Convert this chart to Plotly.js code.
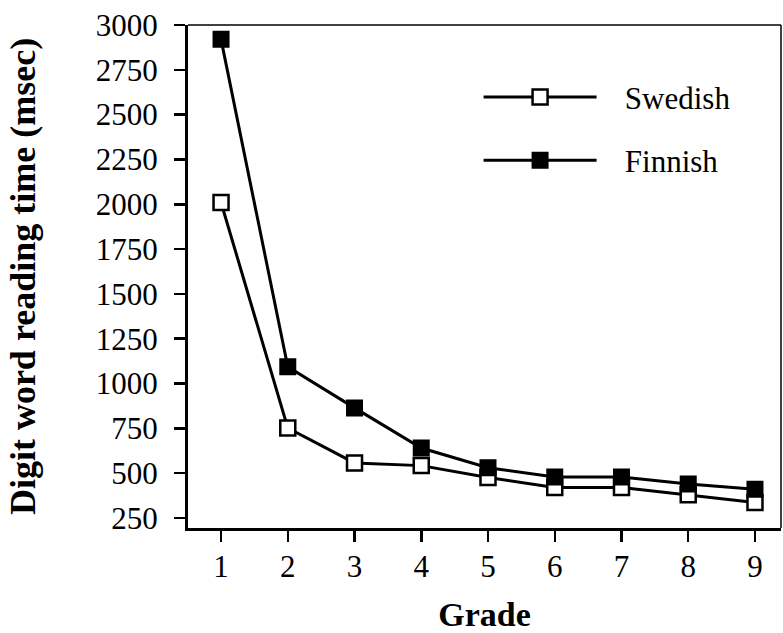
<!DOCTYPE html>
<html>
<head>
<meta charset="utf-8">
<script src="https://cdn.plot.ly/plotly-3.0.1.min.js"></script>
<style>
  html, body { margin: 0; padding: 0; background: #fff; }
  #chart { width: 783px; height: 633px; }
</style>
</head>
<body>
<div id="chart"></div>
<script>
// Digit word reading time by school grade
const grades = [1, 2, 3, 4, 5, 6, 7, 8, 9];
const swedish = [2010, 752, 557, 542, 476, 420, 420, 380, 336];
const finnish = [2920, 1093, 864, 640, 530, 478, 478, 440, 410];
const yTicks = [250, 500, 750, 1000, 1250, 1500, 1750, 2000, 2250, 2500, 2750, 3000];

const serif = '"Liberation Serif", "Times New Roman", serif';
const pad = '\u00a0\u00a0\u00a0';

const lineStyle = { color: '#000', width: 3 };

const traces = [
  {
    x: grades, y: swedish, name: pad + 'Swedish', type: 'scatter', mode: 'lines+markers',
    legendgroup: 'a',
    line: lineStyle,
    marker: { symbol: 'square', size: 15, color: '#fff', line: { color: '#000', width: 2.5 } },
    cliponaxis: false
  },
  {
    x: grades, y: finnish, name: pad + 'Finnish', type: 'scatter', mode: 'lines+markers',
    legendgroup: 'b',
    line: lineStyle,
    marker: { symbol: 'square', size: 15, color: '#000', line: { color: '#000', width: 2 } },
    cliponaxis: false
  }
];

const layout = {
  width: 783, height: 633,
  paper_bgcolor: '#fff', plot_bgcolor: '#fff',
  margin: { l: 188, r: 2, t: 25, b: 105 },
  font: { family: serif, color: '#000', size: 31 },
  showlegend: true,
  legend: {
    x: 0.49, y: 0.91, xanchor: 'left', yanchor: 'top',
    traceorder: 'grouped',
    tracegroupgap: 20,
    itemwidth: 113,
    bgcolor: 'rgba(0,0,0,0)',
    font: { family: serif, size: 31, color: '#000' }
  },
  xaxis: {
    range: [0.505, 9.39],
    tickvals: grades,
    ticktext: grades.map(String),
    ticks: 'outside', ticklen: 11, tickwidth: 2.5, tickcolor: '#000',
    showline: true, linecolor: '#000', linewidth: 3,
    showgrid: false, zeroline: false,
    ticklabelstandoff: -2,
    tickfont: { family: serif, size: 31, color: '#000' },
    title: { text: 'Grade', font: { family: serif, size: 34, color: '#000', weight: 'bold' }, standoff: 22 }
  },
  yaxis: {
    range: [194, 3000],
    tickvals: yTicks,
    ticks: 'outside', ticklen: 11, tickwidth: 2.5, tickcolor: '#000',
    showline: true, linecolor: '#000', linewidth: 3,
    showgrid: false, zeroline: false,
    ticklabelstandoff: 10,
    tickfont: { family: serif, size: 31, color: '#000' },
    title: { text: 'Digit word reading time (msec)', font: { family: serif, size: 36, color: '#000', weight: 'bold' }, standoff: 50 }
  },
  shapes: [
    // thin top and right frame lines
    { type: 'line', xref: 'paper', yref: 'paper', x0: 0, x1: 1, y0: 1, y1: 1, line: { color: '#000', width: 1.5 } },
    { type: 'line', xref: 'paper', yref: 'paper', x0: 1, x1: 1, y0: 0, y1: 1, line: { color: '#000', width: 1.5 } }
  ]
};

Plotly.newPlot('chart', traces, layout, { displayModeBar: false, staticPlot: true });
</script>
</body>
</html>
